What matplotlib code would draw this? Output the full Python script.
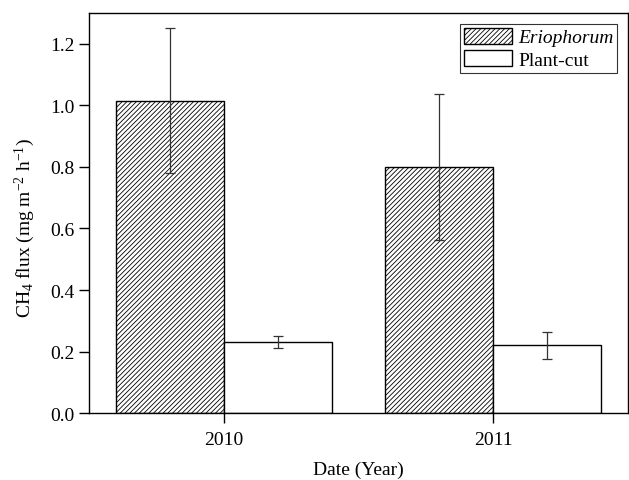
import matplotlib.pyplot as plt
import numpy as np

# flujo medio de CH4 por año y tratamiento
anios = ['2010', '2011']
eriophorum = [1.015, 0.80]
eriophorum_err = [0.235, 0.238]
plant_cut = [0.23, 0.22]
plant_cut_err = [0.019, 0.045]

plt.rcParams['font.family'] = ['Liberation Serif', 'DejaVu Serif']
plt.rcParams['mathtext.fontset'] = 'custom'
plt.rcParams['mathtext.rm'] = 'Liberation Serif'
plt.rcParams['mathtext.it'] = 'Liberation Serif:italic'
plt.rcParams['hatch.linewidth'] = 0.6

fig, ax = plt.subplots(figsize=(6.29, 4.81), dpi=100)
fig.subplots_adjust(left=0.1415, right=0.9985, top=0.971, bottom=0.139)

x = np.arange(len(anios))
ancho = 0.4
ax.bar(x - ancho / 2, eriophorum, ancho, facecolor='white', edgecolor='black',
       hatch='///////', linewidth=1.0, label='Eriophorum')
ax.bar(x + ancho / 2, plant_cut, ancho, facecolor='white', edgecolor='black',
       linewidth=1.0, label='Plant-cut')

# barras de error
ax.errorbar(x - ancho / 2, eriophorum, yerr=eriophorum_err, fmt='none',
            ecolor='#333333', elinewidth=0.9, capsize=3.5, capthick=0.9)
ax.errorbar(x + ancho / 2, plant_cut, yerr=plant_cut_err, fmt='none',
            ecolor='#333333', elinewidth=0.9, capsize=3.5, capthick=0.9)

ax.set_xlim(-0.5, 1.5)
ax.set_ylim(0, 1.3)
ax.set_xticks(x)
ax.set_xticklabels(anios)
ax.set_yticks(np.arange(0, 1.21, 0.2))
ax.set_yticklabels(['%.1f' % v for v in np.arange(0, 1.21, 0.2)])
ax.tick_params(axis='both', direction='out', length=7, width=1.0, labelsize=14)
ax.tick_params(axis='x', pad=6)
for s in ax.spines.values():
    s.set_linewidth(1.0)

ax.set_xlabel('Date (Year)', fontsize=14)
ax.xaxis.set_label_coords(0.5, -0.12)
ax.set_ylabel('CH$_4$ flux (mg m$^{-2}$ h$^{-1}$)', fontsize=14)
ax.yaxis.set_label_coords(-0.097, 0.465)

leg = ax.legend(loc='upper right', fontsize=14, frameon=True, fancybox=False,
                edgecolor='black', handlelength=2.5, handleheight=0.9,
                borderaxespad=0.55, borderpad=0.2, labelspacing=0.2,
                handletextpad=0.3)
leg.get_frame().set_linewidth(0.8)
leg.get_texts()[0].set_fontstyle('italic')

plt.savefig('out.png', dpi=100)
